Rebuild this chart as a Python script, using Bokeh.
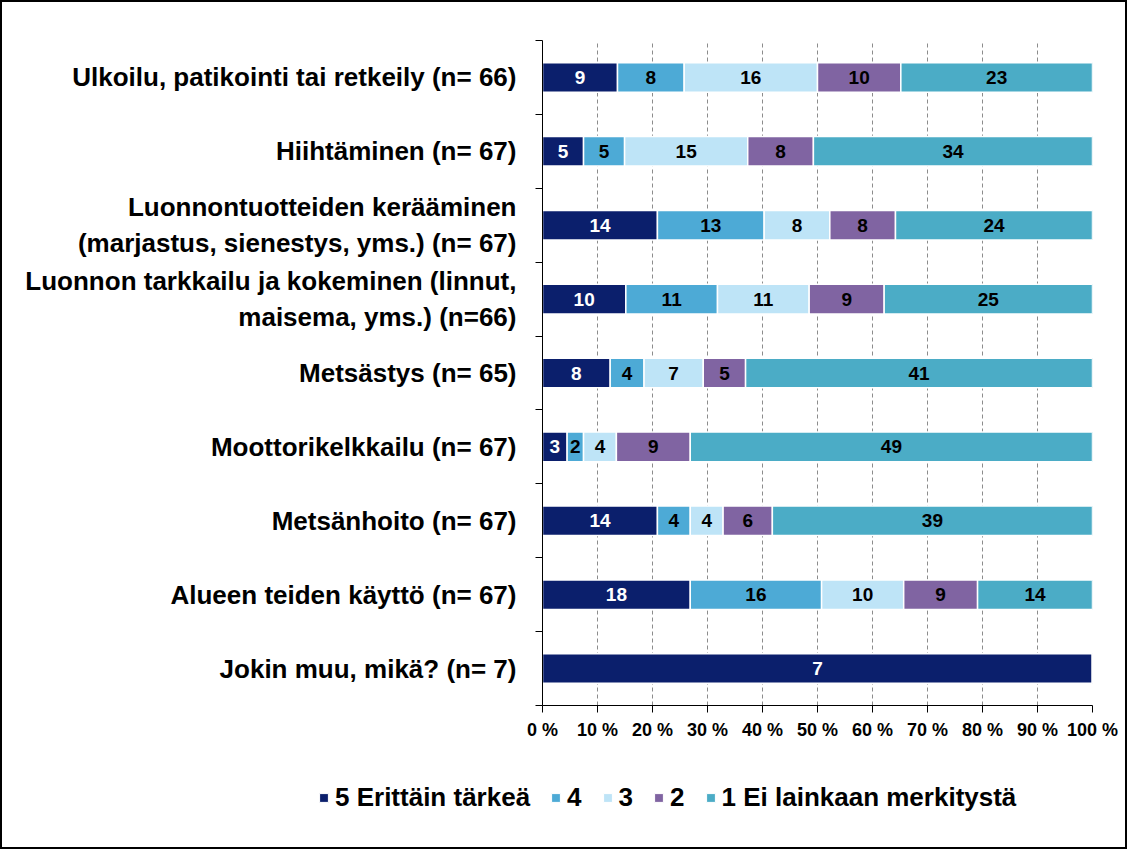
from bokeh.plotting import figure
from bokeh.models import ColumnDataSource, FixedTicker, Legend, LegendItem, Range1d
from bokeh.core.properties import value
from bokeh.embed import file_html
from bokeh.resources import INLINE

categories = [
    "Ulkoilu, patikointi tai retkeily (n= 66)",
    "Hiihtäminen (n= 67)",
    "Luonnontuotteiden kerääminen\n(marjastus, sienestys, yms.) (n= 67)",
    "Luonnon tarkkailu ja kokeminen (linnut,\nmaisema, yms.) (n=66)",
    "Metsästys (n= 65)",
    "Moottorikelkkailu (n= 67)",
    "Metsänhoito (n= 67)",
    "Alueen teiden käyttö (n= 67)",
    "Jokin muu, mikä? (n= 7)",
]
series_names = ["5 Erittäin tärkeä", "4", "3", "2", "1 Ei lainkaan merkitystä"]
s5 = [9, 5, 14, 10, 8, 3, 14, 18, 7]
s4 = [8, 5, 13, 11, 4, 2, 4, 16, 0]
s3 = [16, 15, 8, 11, 7, 4, 4, 10, 0]
s2 = [10, 8, 8, 9, 5, 9, 6, 9, 0]
s1 = [23, 34, 24, 25, 41, 49, 39, 14, 0]
x_ticks = [0, 10, 20, 30, 40, 50, 60, 70, 80, 90, 100]

colors = ["#0B1F6C", "#4DAAD6", "#BEE4F7", "#8064A2", "#4BACC6"]
label_colors = ["white", "black", "black", "black", "black"]
FONT = "Liberation Sans"

series = [s5, s4, s3, s2, s1]
n = len(categories)
ys = [n - 1 - i for i in range(n)]
totals = [sum(s[i] for s in series) for i in range(n)]
keys = ["p5", "p4", "p3", "p2", "p1"]
data = {"y": ys}
for k, s in zip(keys, series):
    data[k] = [s[i] / totals[i] * 100 for i in range(n)]
source = ColumnDataSource(data)

W = 1127
H1 = 760
H2 = 89

p = figure(width=W, height=H1, output_backend="svg", toolbar_location=None,
           x_range=Range1d(0, 100), y_range=Range1d(-0.5, n - 0.5),
           min_border_left=540, min_border_right=37, min_border_top=38,
           min_border_bottom=57)
p.styles = {"border-top": "2px solid black", "border-left": "2px solid black",
            "border-right": "2px solid black", "box-sizing": "border-box"}
p.outline_line_color = None

p.hbar_stack(keys, y="y", height=0.4, color=colors, source=source,
             line_color="white", line_width=1.5)

# data labels
lx, ly, lt, lc = [], [], [], []
for i in range(n):
    cum = 0.0
    for j, s in enumerate(series):
        pct = s[i] / totals[i] * 100
        if s[i] > 0:
            lx.append(cum + pct / 2)
            ly.append(ys[i])
            lt.append(str(s[i]))
            lc.append(label_colors[j])
        cum += pct
lsrc = ColumnDataSource(dict(x=lx, y=ly, t=lt, c=lc))
p.text(x="x", y="y", text="t", text_color="c", source=lsrc,
       text_font=value(FONT), text_font_style="bold", text_font_size="19px",
       text_align="center", text_baseline="middle")

# x axis
p.xaxis.ticker = FixedTicker(ticks=x_ticks)
p.xaxis.major_label_overrides = {t: f"{t} %" for t in x_ticks}
p.xaxis.major_label_text_font = FONT
p.xaxis.major_label_text_font_style = "bold"
p.xaxis.major_label_text_font_size = "18px"
p.xaxis.major_label_text_color = "black"
p.xaxis.major_tick_in = 0
p.xaxis.major_tick_out = 7
p.xaxis.minor_tick_line_color = None
p.xaxis.axis_line_color = "black"
p.xaxis.major_tick_line_color = "black"
p.xaxis.major_label_standoff = 7

# y axis
p.yaxis.ticker = FixedTicker(ticks=ys, minor_ticks=[b - 0.5 for b in range(n + 1)])
p.yaxis.major_label_overrides = {y: c for y, c in zip(ys, categories)}
p.yaxis.major_label_text_font = FONT
p.yaxis.major_label_text_font_style = "bold"
p.yaxis.major_label_text_font_size = "26px"
p.yaxis.major_label_text_color = "black"
p.yaxis.major_tick_in = 0
p.yaxis.major_tick_out = 0
p.yaxis.minor_tick_in = 0
p.yaxis.minor_tick_out = 7
p.yaxis.minor_tick_line_color = "black"
p.yaxis.axis_line_color = "black"
p.yaxis.major_label_standoff = 19

p.xgrid.ticker = FixedTicker(ticks=x_ticks[1:])
p.xgrid.grid_line_color = "#8c8c8c"
p.xgrid.grid_line_dash = "4 3"
p.ygrid.visible = False

# legend strip (its bar renderers lie outside its visible range; only the legend shows)
p2 = figure(width=W, height=H2, output_backend="svg", toolbar_location=None,
            x_range=Range1d(0, 100), y_range=Range1d(100, 101),
            min_border_left=0, min_border_right=0, min_border_top=0, min_border_bottom=0)
p2.styles = {"border-bottom": "2px solid black", "border-left": "2px solid black",
             "border-right": "2px solid black", "box-sizing": "border-box"}
p2.axis.visible = False
p2.grid.visible = False
p2.outline_line_color = None
leg_renderers = p2.hbar_stack(keys, y="y", height=0.4, color=colors, source=source,
                              line_color="white", line_width=1)
legend = Legend(items=[LegendItem(label=nm, renderers=[r])
                       for nm, r in zip(series_names, leg_renderers)],
                orientation="horizontal", location=(316, 36))
legend.label_text_font = FONT
legend.label_text_font_style = "bold"
legend.label_text_font_size = "26px"
legend.label_text_color = "black"
legend.label_width = 8
legend.glyph_width = 11
legend.glyph_height = 11
legend.spacing = 20
legend.label_standoff = 6
legend.padding = 0
legend.margin = 0
legend.border_line_color = None
legend.background_fill_alpha = 0
p2.add_layout(legend, "center")

open("out.html", "w").write(file_html([p, p2], INLINE))
